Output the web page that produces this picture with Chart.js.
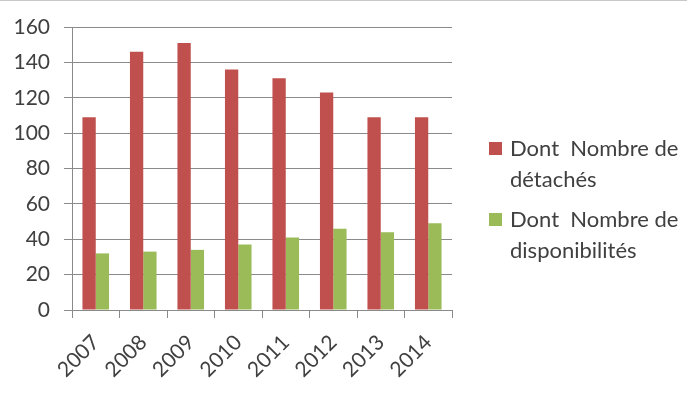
<!DOCTYPE html>
<html>
<head>
<meta charset="utf-8">
<script src="https://cdn.jsdelivr.net/npm/chart.js@4/dist/chart.umd.min.js"></script>
<style>
  html,body{margin:0;padding:0;background:#fff;}
  #wrap{position:relative;width:687px;height:396px;overflow:hidden;border-top:1px solid #c8c8c8;box-sizing:border-box;}
  #chart{position:absolute;left:0;top:-1px;}
  .leg{position:absolute;left:489px;font-family:Lato,sans-serif;font-size:22px;color:#404040;line-height:31px;}
  .leg .box{position:absolute;left:0;top:10px;width:13px;height:13px;}
  .leg .txt{margin-left:21px;white-space:pre;}
</style>
</head>
<body>
<div id="wrap">
  <canvas id="chart" width="687" height="396"></canvas>
  <div id="legend"></div>
</div>
<script>
let years = ["2007","2008","2009","2010","2011","2012","2013","2014"];
let detaches = [109,146,151,136,131,123,109,109];
let disponibilites = [32,33,34,37,41,46,44,49];
let seriesNames = [["Dont  Nombre de","détachés"],["Dont  Nombre de","disponibilités"]];
let colors = ["#c0504d","#9bbb59"];

let grey = "#8a8a8a", txt = "#404040";
let font = {family:"Lato", size:21};

/* chart */
new Chart(document.getElementById("chart"), {
    type:'bar',
    data:{
        labels:years,
        datasets:[
            {label:seriesNames[0].join(" "), data:detaches, backgroundColor:colors[0]},
            {label:seriesNames[1].join(" "), data:disponibilites, backgroundColor:colors[1]}
        ]
    },
    options:{
        responsive:false,
        animation:false,
        layout:{padding:{top:27, right:235, left:0, bottom:0}},
        plugins:{legend:{display:false}, tooltip:{enabled:false}},
        datasets:{bar:{categoryPercentage:0.56, barPercentage:1}},
        scales:{
            x:{
                grid:{display:true, drawOnChartArea:false, drawTicks:true, tickLength:8, color:grey, offset:true},
                border:{color:grey},
                ticks:{color:txt, font:font, minRotation:45, maxRotation:45, padding:12},
                afterFit:s=>{ s.height = 86; }
            },
            y:{
                min:0, max:160,
                grid:{color:grey, tickLength:8},
                border:{color:grey},
                ticks:{stepSize:20, color:txt, font:font, padding:14},
                afterFit:s=>{ s.width = 72; }
            }
        }
    }
});

/* legend */
let tops = [131, 202];
seriesNames.forEach((n,i)=>{
    let d=document.createElement("div");
    d.className="leg";
    d.style.top=tops[i]+"px";
    d.innerHTML=`<div class="box" style="background:${colors[i]}"></div><div class="txt">${n.join("\n")}</div>`;
    legend.appendChild(d);
});
</script>
</body>
</html>
